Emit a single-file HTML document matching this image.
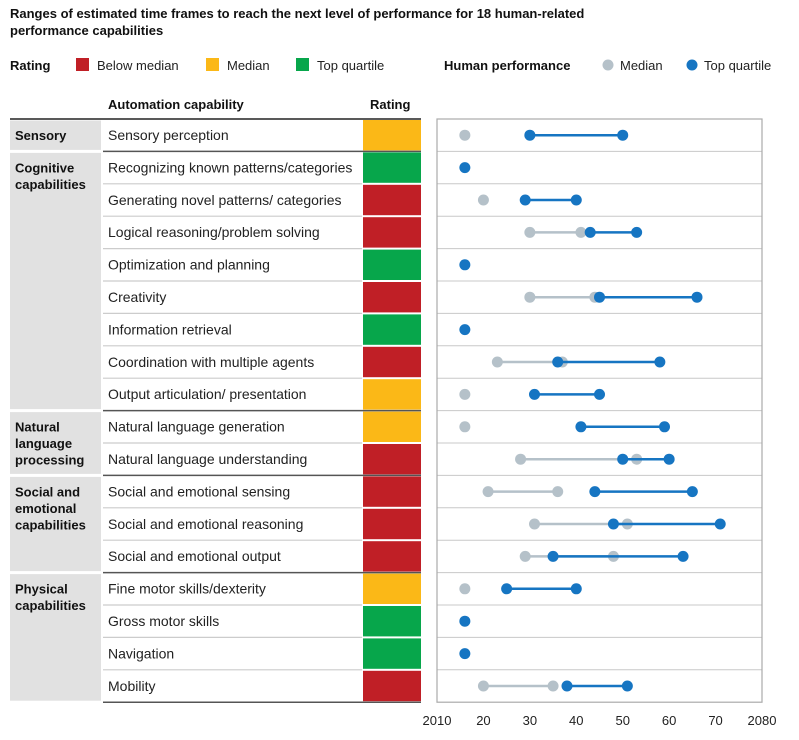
<!DOCTYPE html>
<html><head><meta charset="utf-8"><style>
body{margin:0;background:#fff;font-family:"Liberation Sans",Arial,sans-serif}
svg text{font-family:"Liberation Sans",Arial,sans-serif}
</style></head><body>
<svg id="c" width="799" height="735"></svg>
<script>
const capabilities=["Sensory perception","Recognizing known patterns/categories","Generating novel patterns/ categories","Logical reasoning/problem solving","Optimization and planning","Creativity","Information retrieval","Coordination with multiple agents","Output articulation/ presentation","Natural language generation","Natural language understanding","Social and emotional sensing","Social and emotional reasoning","Social and emotional output","Fine motor skills/dexterity","Gross motor skills","Navigation","Mobility"];
const ratings=["M","T","B","B","T","B","T","B","M","M","B","B","B","B","M","T","T","B"];
const groups=[["Sensory"],["Cognitive","capabilities"],["Natural","language","processing"],["Social and","emotional","capabilities"],["Physical","capabilities"]];
const groupSizes=[1,8,2,3,4];
const medianStart=[2016,null,2020,2030,null,2030,null,2023,2016,2016,2028,2021,2031,2029,2016,null,null,2020];
const medianEnd=[null,null,null,2041,null,2044,null,2037,null,null,2053,2036,2051,2048,null,null,null,2035];
const topStart=[2030,2016,2029,2043,2016,2045,2016,2036,2031,2041,2050,2044,2048,2035,2025,2016,2016,2038];
const topEnd=[2050,null,2040,2053,null,2066,null,2058,2045,2059,2060,2065,2071,2063,2040,null,null,2051];
const ticks=["2010","20","30","40","50","60","70","2080"];
const tickYears=[2010,2020,2030,2040,2050,2060,2070,2080];

const svg=document.getElementById('c');const NS="http://www.w3.org/2000/svg";
function el(t,a,txt){const e=document.createElementNS(NS,t);for(const k in a)e.setAttribute(k,a[k]);if(txt!=null)e.textContent=txt;svg.appendChild(e);return e;}
const X0=437,X1=762,Y0=119,RH=32.4,PR=5.5;
const xs=y=>X0+(y-2010)*(X1-X0)/70;
const ry=i=>Y0+i*RH;
const col={B:"#c01f26",M:"#fbb817",T:"#07a64b"};
const BLUE="#1675c2",GRAY="#b5c1c9";

let t;
t=el('text',{x:10,y:18,'font-size':13,'font-weight':'bold',fill:'#111'},"Ranges of estimated time frames to reach the next level of performance for 18 human-related");
t=el('text',{x:10,y:35,'font-size':13,'font-weight':'bold',fill:'#111'},"performance capabilities");
t=el('text',{x:10,y:70,'font-size':13,'font-weight':'bold',fill:'#111'},"Rating");
[["B",76,"Below median"],["M",206,"Median"],["T",296,"Top quartile"]].forEach(([k,x,l])=>{
 let r=el('rect',{x:x,y:58,width:13,height:13,fill:col[k]});
 let tt=el('text',{x:x+21,y:70,'font-size':13,fill:'#222'},l);
});
t=el('text',{x:444,y:70,'font-size':13,'font-weight':'bold',fill:'#111'},"Human performance");
[[GRAY,608,"Median"],[BLUE,692,"Top quartile"]].forEach(([c,x,l])=>{
 let r=el('circle',{cx:x,cy:65,r:PR,fill:c});
 let tt=el('text',{x:x+12,y:70,'font-size':13,fill:'#222'},l);
});
t=el('text',{x:108,y:109,'font-size':13,'font-weight':'bold',fill:'#111'},"Automation capability");
t=el('text',{x:370,y:109,'font-size':13,'font-weight':'bold',fill:'#111'},"Rating");

let gi=0;
groups.forEach((g,k)=>{
 const top=ry(gi),h=groupSizes[k]*RH;
 let r=el('rect',{x:10,y:top+1.5,width:91,height:h-3,fill:'#e1e1e1'});
 g.forEach((ln,j)=>{let tt=el('text',{x:15,y:top+21+j*16.5,'font-size':13,'font-weight':'bold',fill:'#111'},ln);});
 gi+=groupSizes[k];
});
const groupEnds=[];let acc=0;groupSizes.forEach(s=>{acc+=s;groupEnds.push(acc);});
capabilities.forEach((c,i)=>{
 const y=ry(i);
 let r=el('rect',{x:363,y:y+1,width:58,height:RH-2,fill:col[ratings[i]]});
 let tt=el('text',{x:108,y:y+21,'font-size':14,fill:'#222'},c);
 if(i<17){
  const major=groupEnds.includes(i+1);
  let l=el('line',{x1:103,x2:major?421:362,y1:y+RH,y2:y+RH,stroke:major?'#555':'#ccc','stroke-width':major?1.5:1.2});
  let l2=el('line',{x1:X0,x2:X1,y1:y+RH,y2:y+RH,stroke:'#c8c8c8','stroke-width':1});
 }
});
let l=el('line',{x1:10,x2:421,y1:Y0,y2:Y0,stroke:'#222','stroke-width':1.5});
l=el('line',{x1:103,x2:421,y1:ry(18),y2:ry(18),stroke:'#555','stroke-width':1.5});
let box=el('rect',{x:X0,y:Y0,width:X1-X0,height:18*RH,fill:'none',stroke:'#aaa','stroke-width':1.2});
tickYears.forEach((yr,i)=>{let tt=el('text',{x:xs(yr),y:725,'font-size':13,fill:'#222','text-anchor':'middle'},ticks[i]);});
capabilities.forEach((c,i)=>{
 const cy=ry(i)+RH/2;
 if(medianStart[i]!=null&&medianEnd[i]!=null){let m=el('line',{x1:xs(medianStart[i]),x2:xs(medianEnd[i]),y1:cy,y2:cy,stroke:GRAY,'stroke-width':2.5});}
 [medianStart[i],medianEnd[i]].forEach(v=>{if(v!=null){let p=el('circle',{cx:xs(v),cy:cy,r:PR,fill:GRAY});}});
 if(topStart[i]!=null&&topEnd[i]!=null){let m=el('line',{x1:xs(topStart[i]),x2:xs(topEnd[i]),y1:cy,y2:cy,stroke:BLUE,'stroke-width':2.5});}
 [topStart[i],topEnd[i]].forEach(v=>{if(v!=null){let p=el('circle',{cx:xs(v),cy:cy,r:PR,fill:BLUE});}});
});
</script>
</body></html>
